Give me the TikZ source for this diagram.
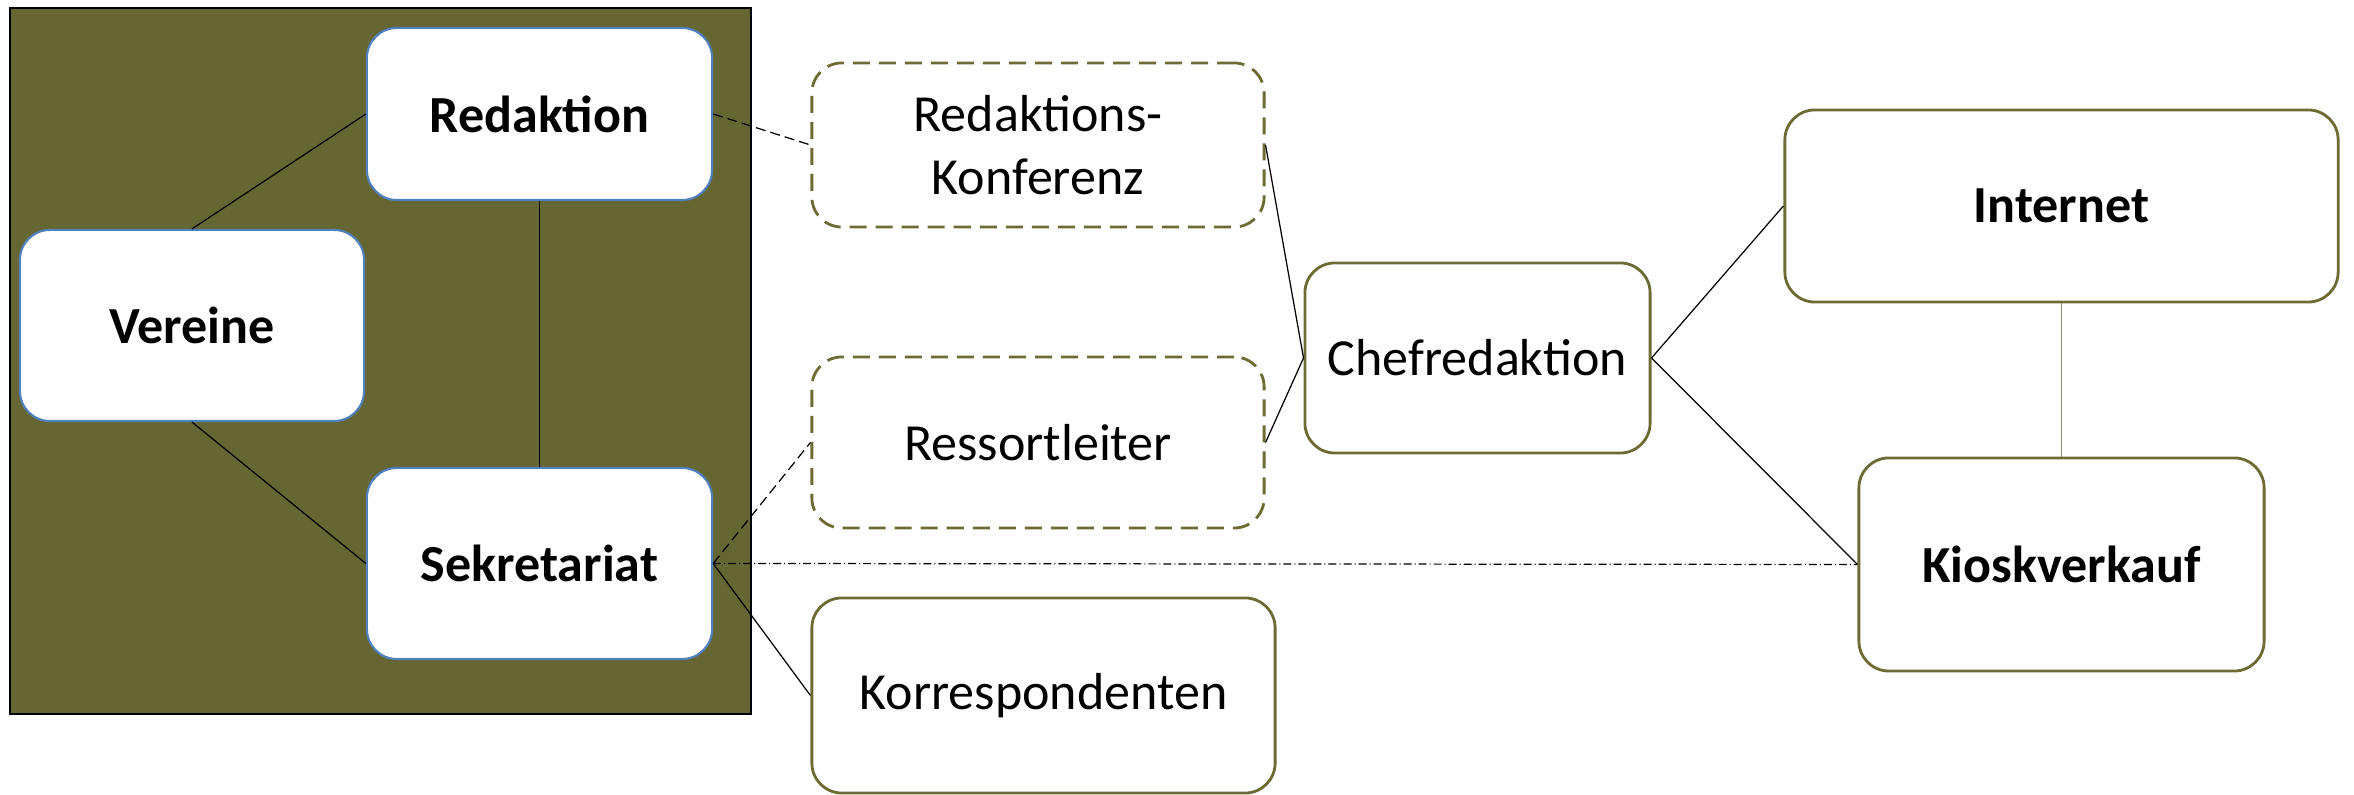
\documentclass[tikz,border=0pt]{standalone}
\usepackage{fontspec}
\setmainfont{Carlito}
\usepackage{xcolor}
\usepackage{tikz}
\definecolor{panelolive}{HTML}{666633}
\definecolor{frameolive}{HTML}{6B6B33}
\definecolor{lineolive}{HTML}{8C8C66}
\definecolor{frameblue}{HTML}{4F81BD}
\tikzset{
  blk/.style={draw, rounded corners=0.3cm, line width=.6pt, fill=white, align=center, inner sep=4pt, font=\fontsize{14.8}{18}\selectfont},
  blkin/.style={blk, draw=frameblue, font=\fontsize{14.8}{18}\selectfont\bfseries},
  blko/.style={blk, draw=frameolive, line width=.8pt},
  blkd/.style={blko, dash pattern=on 0.17cm off 0.09cm},
  ln/.style={line width=.35pt, draw=black},
  dln/.style={ln, dash pattern=on 0.1cm off 0.05cm},
  ddln/.style={ln, dash pattern=on 0.08cm off 0.03cm on 0.01cm off 0.03cm},
}

\begin{document}
\begin{tikzpicture}[x=0.01cm, y=-0.01cm]
    \useasboundingbox (0,0) rectangle (2354,795);
    \draw[fill=panelolive, draw=black, line width=.8pt] (10,8) rectangle (751,714);

    \node[blkin, minimum width=3.45cm, minimum height=1.72cm] (redaktion) at (539.5,114) {Redaktion};
    \node[blkin, minimum width=3.44cm, minimum height=1.91cm] (vereine) at (192,325.5) {Vereine};
    \node[blkin, minimum width=3.45cm, minimum height=1.91cm] (sekretariat) at (539.5,563.5) {Sekretariat};

    \node[blkd, minimum width=4.52cm, minimum height=1.64cm] (konferenz) at (1038,145) {Redaktions-\\Konferenz};
    \node[blkd, minimum width=4.52cm, minimum height=1.71cm] (ressort) at (1038,442.5) {Ressortleiter};
    \node[blko, minimum width=4.63cm, minimum height=1.95cm] (korresp) at (1043.5,695.5) {Korrespondenten};
    \node[blko, minimum width=3.45cm, minimum height=1.90cm] (chef) at (1477.5,358) {Chefredaktion};
    \node[blko, minimum width=5.53cm, minimum height=1.92cm, font=\fontsize{14.8}{18}\selectfont\bfseries] (internet) at (2061.5,206) {Internet};
    \node[blko, minimum width=4.05cm, minimum height=2.13cm, font=\fontsize{14.8}{18}\selectfont\bfseries] (kiosk) at (2061.5,564.5) {Kioskverkauf};

    \draw[ln] (vereine.north) -- (redaktion.west);
    \draw[ln] (vereine.south) -- (sekretariat.west);
    \draw[ln] (redaktion) -- (sekretariat);
    \draw[dln] (redaktion.east) -- (konferenz.west);
    \draw[dln] (sekretariat.east) -- (ressort.west);
    \draw[ddln] (sekretariat.east) -- (kiosk.west);
    \foreach \a/\b in {sekretariat/korresp, konferenz/chef, ressort/chef}{\draw[ln] (\a.east)--(\b.west);}
    \foreach \b in {internet, kiosk}{\draw[ln] (chef.east)--(\b.west);}
    \draw[ln, draw=lineolive, line width=.5pt] (internet) -- (kiosk);
  \end{tikzpicture}
\end{document}
